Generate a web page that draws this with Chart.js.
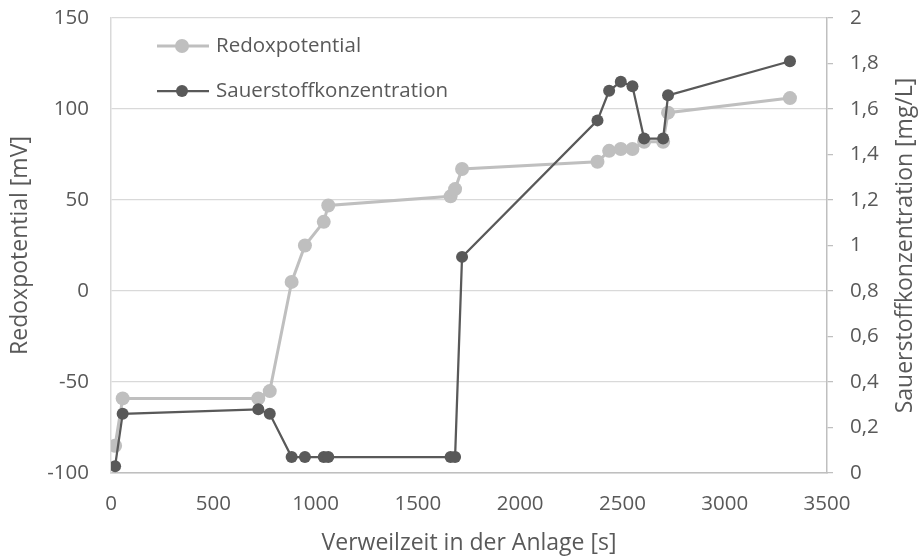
<!DOCTYPE html>
<html>
<head>
<meta charset="utf-8">
<script src="https://cdn.jsdelivr.net/npm/chart.js@4"></script>
<style>
  html, body { margin: 0; padding: 0; background: #fff; }
  #wrap { width: 924px; height: 559px; }
</style>
</head>
<body>
<div id="wrap"><canvas id="myChart" width="924" height="559"></canvas></div>
<script>
const ctx = document.getElementById("myChart");

// Verweilzeit [s]
const zeit = [20, 57, 720, 776, 883, 948, 1040, 1062, 1660, 1682, 1716, 2378, 2435, 2492, 2549, 2606, 2699, 2723, 3319];
// Redoxpotential [mV]
const redox = [-85, -59, -59, -55, 5, 25, 38, 47, 52, 56, 67, 71, 77, 78, 78, 82, 82, 98, 106];
// Sauerstoffkonzentration [mg/L]
const sauerstoff = [0.03, 0.26, 0.28, 0.26, 0.07, 0.07, 0.07, 0.07, 0.07, 0.07, 0.95, 1.55, 1.68, 1.72, 1.70, 1.47, 1.47, 1.66, 1.81];

const xTitle = "Verweilzeit in der Anlage [s]";
const yTitle = "Redoxpotential [mV]";
const y2Title = "Sauerstoffkonzentration [mg/L]";

const grey = "#BFBFBF";
const dark = "#595959";
const textColor = "#595959";
const font = { family: "'Open Sans', sans-serif", size: 20.5 };
const titleFont = { family: "'Open Sans', sans-serif", size: 23 };

function points(values) {
  return zeit.map((t, i) => ({ x: t, y: values[i] }));
}

// legend with line + marker, like the original
const legendPlugin = {
  id: "lineLegend",
  afterDraw(chart) {
    const c = chart.ctx;
    const rows = [46, 91];
    chart.data.datasets.forEach((ds, i) => {
      const y = rows[i];
      c.save();
      c.strokeStyle = ds.borderColor;
      c.lineWidth = ds.borderWidth;
      c.beginPath();
      c.moveTo(157, y);
      c.lineTo(209, y);
      c.stroke();
      c.fillStyle = ds.borderColor;
      c.beginPath();
      c.arc(182, y, ds.pointRadius, 0, Math.PI * 2);
      c.fill();
      c.fillStyle = textColor;
      c.font = font.size + "px " + font.family;
      c.textBaseline = "middle";
      c.textAlign = "left";
      c.fillText(ds.label, 216, y);
      c.restore();
    });
  },
};

// right axis title reads bottom-to-top
const rightTitlePlugin = {
  id: "rightTitle",
  afterDraw(chart) {
    const c = chart.ctx;
    const area = chart.chartArea;
    c.save();
    c.translate(905, (area.top + area.bottom) / 2);
    c.rotate(-Math.PI / 2);
    c.fillStyle = textColor;
    c.font = titleFont.size + "px " + titleFont.family;
    c.textAlign = "center";
    c.textBaseline = "middle";
    c.fillText(y2Title, 0, 0);
    c.restore();
  },
};

const data = {
  datasets: [
    {
      label: "Redoxpotential",
      data: points(redox),
      yAxisID: "y",
      borderColor: grey,
      backgroundColor: grey,
      borderWidth: 3,
      pointRadius: 7,
      pointBackgroundColor: grey,
      pointBorderWidth: 0,
      showLine: true,
      order: 1,
    },
    {
      label: "Sauerstoffkonzentration",
      data: points(sauerstoff),
      yAxisID: "y2",
      borderColor: dark,
      backgroundColor: dark,
      borderWidth: 2.25,
      pointRadius: 6,
      pointBackgroundColor: dark,
      pointBorderWidth: 0,
      showLine: true,
      order: 0,
    },
  ],
};

function fixWidth(w) {
  return function (scale) {
    scale.width = w;
    scale.paddingTop = 0;
    scale.paddingBottom = 0;
  };
}

const config = {
  type: "scatter",
  data: data,
  plugins: [legendPlugin, rightTitlePlugin],
  options: {
    responsive: false,
    animation: false,
    events: [],
    layout: { padding: { top: 18, left: 0, right: 0, bottom: 0 } },
    plugins: { legend: { display: false }, tooltip: { enabled: false } },
    scales: {
      x: {
        type: "linear",
        min: 0,
        max: 3500,
        afterFit(scale) {
          scale.height = 86;
          scale.paddingLeft = 0;
          scale.paddingRight = 0;
        },
        ticks: { stepSize: 500, color: textColor, font: font, padding: 19, maxRotation: 0, callback: (v) => String(v) },
        grid: { drawOnChartArea: false, drawTicks: false },
        border: { display: true, color: grey, width: 1.5 },
        title: { display: true, text: xTitle, color: textColor, font: titleFont, padding: { top: 0, bottom: 2 } },
      },
      y: {
        position: "left",
        min: -100,
        max: 150,
        afterFit: fixWidth(111),
        ticks: { stepSize: 50, color: textColor, font: font, padding: 22 },
        grid: { color: "#D9D9D9", lineWidth: 1.25, drawTicks: false },
        border: { display: true, color: "#D9D9D9", width: 1.5 },
        title: { display: true, text: yTitle, color: textColor, font: titleFont, padding: { top: 7, bottom: 0 } },
      },
      y2: {
        position: "right",
        min: 0,
        max: 2,
        afterFit: fixWidth(97),
        ticks: {
          stepSize: 0.2,
          color: textColor,
          font: font,
          padding: 17,
          callback: (v) => String(Math.round(v * 10) / 10).replace(".", ","),
        },
        grid: { drawOnChartArea: false, drawTicks: true, tickLength: 6, color: grey, lineWidth: 1.25 },
        border: { display: true, color: grey, width: 1.5 },
      },
    },
  },
};

const myChart = new Chart(ctx, config);
</script>
</body>
</html>
